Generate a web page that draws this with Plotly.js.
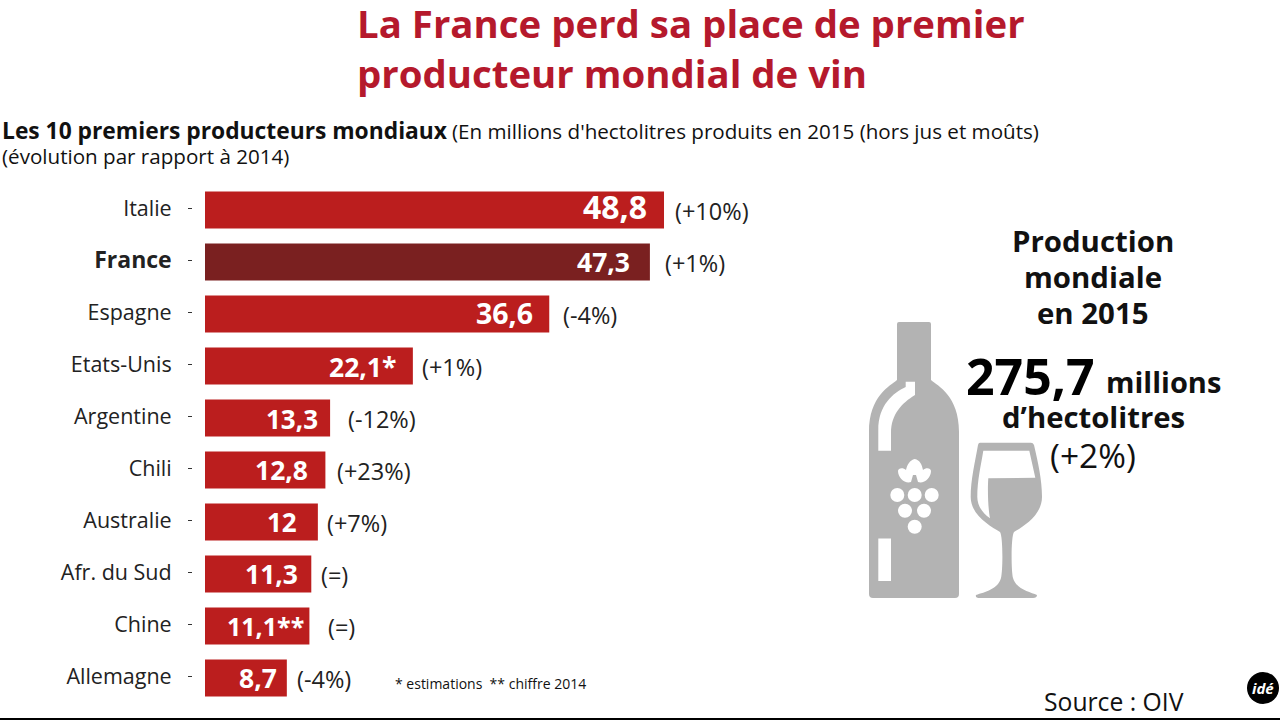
<!DOCTYPE html>
<html><head><meta charset="utf-8">
<script src="https://cdn.plot.ly/plotly-3.0.1.min.js"></script>
<style>html,body{margin:0;padding:0;background:#fff}#c{width:1280px;height:720px}</style>
</head><body><div id="c"></div>
<script>
const categories = ['Italie','France','Espagne','Etats-Unis','Argentine','Chili','Australie','Afr. du Sud','Chine','Allemagne'];
const values = [48.8,47.3,36.6,22.1,13.3,12.8,12,11.3,11.1,8.7];
const valueLabels = ['48,8','47,3','36,6','22,1*','13,3','12,8','12','11,3','11,1**','8,7'];
const changes = ['(+10%)','(+1%)','(-4%)','(+1%)','(-12%)','(+23%)','(+7%)','(=)','(=)','(-4%)'];
const tickLabels = ['Italie','<span style="font-size:23px"><b>France</b></span>','Espagne','Etats-Unis','Argentine','Chili','Australie','Afr. du Sud','Chine','Allemagne'];
const barColors = ['#BB1E1E','#7A2020','#BB1E1E','#BB1E1E','#BB1E1E','#BB1E1E','#BB1E1E','#BB1E1E','#BB1E1E','#BB1E1E'];
const valueSizes = [32,26.5,28.5,26.5,26,26.5,26,26.5,25,26.5];
const valueInset = [15,18,14,15,10,15,19,11,3.5,8];
const valueShift = [2,-2,-1,-3,-3,-2,-2,-2,-2,-2];
const changeGap = [9,13,12,7,16,10,7,8,16.6,8];

const W=1280,H=720,FONT='"Open Sans", "Noto Sans", sans-serif',GREY='#B3B3B3';
const px=x=>x/W, py=y=>1-y/H;
const toPaper=d=>d.replace(/(-?[\d.]+),(-?[\d.]+)/g,(m,x,y)=>`${x/W},${1-y/H}`);
const note=(x,y,text,size,o={})=>Object.assign({xref:'paper',yref:'paper',x:px(x),y:py(y),text,showarrow:false,
  xanchor:'left',yanchor:'middle',font:{family:FONT,size,color:'#111'}},o);
const pathShape=(d,fill)=>({type:'path',xref:'paper',yref:'paper',path:toPaper(d),fillcolor:fill,line:{width:0}});
const circle=(cx,cy,r,fill)=>({type:'circle',xref:'paper',yref:'paper',x0:px(cx-r),x1:px(cx+r),y0:py(cy+r),y1:py(cy-r),fillcolor:fill,line:{width:0}});

const annotations=[];
categories.forEach((c,i)=>{
  annotations.push({xref:'x',yref:'y',x:values[i],y:c,xshift:-valueInset[i],yshift:valueShift[i],xanchor:'right',yanchor:'middle',showarrow:false,
    text:'<b>'+valueLabels[i]+'</b>',font:{family:FONT,size:valueSizes[i],color:'#fff'}});
  annotations.push({xref:'x',yref:'y',x:values[i],y:c,xshift:changeGap[i],yshift:-3,xanchor:'left',yanchor:'middle',showarrow:false,
    text:changes[i],font:{family:FONT,size:23.5,color:'#222'}});
});
annotations.push(
  note(0,130,'<b>Les 10 premiers producteurs mondiaux</b>',22.8),
  note(450,131,'(En millions d\'hectolitres produits en 2015 (hors jus et moûts)',20.6),
  note(0,156,'(évolution par rapport à 2014)',20.6),
  note(1093,241,'<b>Production</b>',29.4,{xanchor:'center'}),
  note(1093,277,'<b>mondiale</b>',29.4,{xanchor:'center'}),
  note(1093,313,'<b>en 2015</b>',29.4,{xanchor:'center'}),
  note(964,376,'<b>275,7</b>',50,{font:{family:FONT,size:50,color:'#000'}}),
  note(1104,381,'<b>millions</b>',29),
  note(1093,417,'<b>d’hectolitres</b>',29.3,{xanchor:'center'}),
  note(1093,455,'(+2%)',33.5,{xanchor:'center'}),
  note(393,683,'* estimations  ** chiffre 2014',14),
  note(1042,701,'Source : OIV',24.7),
  note(1263,688,'<b><i>idé</i></b>',15,{xanchor:'center',font:{family:FONT,size:15,color:'#fff'}})
);

const shapes=[
  pathShape('M899,322 L929,322 Q931,322 931,324 L931,380 C938,386 959,396 959,432 L959,594 Q959,598 955,598 L873,598 Q869,598 869,594 L869,432 C869,396 890,386 897,380 L897,324 Q897,322 899,322 Z',GREY),
  pathShape('M905.7,381.7 L915,381.7 L915,395 C902,403 891,414 891,433 L891,450.7 L878.3,450.7 L878.3,430 C878.3,405 893,393 905.7,387 Z','#fff'),
  pathShape('M878.3,538.5 L891,538.5 L891,581 L878.3,581 Z','#fff'),
  circle(897.3,495,7,'#fff'),circle(914.7,495,7,'#fff'),circle(931.7,495,7,'#fff'),
  circle(905,510.7,7,'#fff'),circle(924,510.7,7,'#fff'),circle(914.7,526.7,7,'#fff'),
  pathShape('M914.7,459 C920,460 922,465 923,470 C926,467 931,468 931,471 C931,478 924,484 918,482 L916,475 L913,475 L911,482 C905,484 898,478 898,471 C898,468 903,467 906,470 C907,465 910,460 914.7,459 Z','#fff'),
  pathShape('M980,442.7 L1031,442.7 Q1033,442.7 1034,445 C1038,462 1042,480 1042,497 C1042,515 1024,526 1014,532 C1011,536 1011,570 1013,578 C1016,589 1030,592 1037,595 Q1037,598 1033,598 L980,598 Q975,598 976,595 C985,592 998,589 1001,578 C1003,570 1003,536 1000,532 C990,526 970.7,515 970.7,497 C970.7,480 975,462 978,445 Q978.5,442.7 980,442.7 Z',GREY),
  pathShape('M983.3,450.7 L1029.3,450.7 L1035.3,477.7 L988.3,478.3 C987.5,490 988,508 990,518.3 C982,513 977.3,505 977.3,497 C977.3,480 981,465 983.3,450.7 Z','#fff'),
  circle(1263,688,16,'#000'),
  {type:'rect',xref:'paper',yref:'paper',x0:0,x1:1,y0:0,y1:py(718),fillcolor:'#000',line:{width:0}}
];

Plotly.newPlot('c',[{
  type:'bar',orientation:'h',x:values,y:categories,
  marker:{color:barColors,line:{width:0}},
  width:0.712,offset:-0.318,hoverinfo:'x+y'
}],{
  width:W,height:H,margin:{l:0,r:0,t:0,b:0},
  paper_bgcolor:'#fff',plot_bgcolor:'rgba(0,0,0,0)',showlegend:false,
  title:{text:'<b>La France perd sa place de premier<br>producteur mondial de vin</b>',x:px(357),xref:'paper',xanchor:'left',y:py(38),yref:'paper',yanchor:'top',
    font:{family:FONT,size:38.4,color:'#B5192C'}},
  xaxis:{domain:[px(205),px(205+9.406*60)],range:[0,60],visible:false,fixedrange:true},
  yaxis:{domain:[py(702),py(182)],type:'category',categoryorder:'array',categoryarray:categories,range:[9.5,-0.5],
    anchor:'free',position:px(192),showline:false,showgrid:false,zeroline:false,
    tickmode:'array',tickvals:categories,ticktext:tickLabels,ticks:'outside',ticklen:4,tickwidth:1,tickcolor:'#333',
    ticklabelstandoff:12,tickfont:{family:FONT,size:21.5,color:'#222'},fixedrange:true},
  annotations,shapes
},{displayModeBar:false,responsive:false});
</script></body></html>
